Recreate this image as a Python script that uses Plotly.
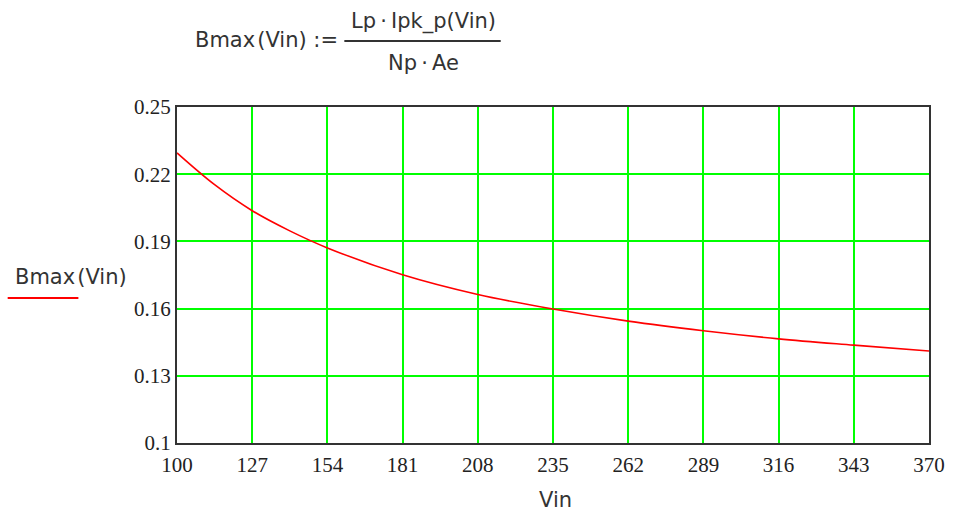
import plotly.graph_objects as go

vin = [100, 113.5, 127, 140.5, 154, 181, 208, 235, 262, 289, 316, 343, 370]
bmax = [0.2295, 0.2153, 0.2037, 0.1947, 0.1871, 0.1751, 0.1663, 0.1598, 0.1544, 0.1501, 0.1465, 0.1437, 0.1411]
x_ticks = [100, 127, 154, 181, 208, 235, 262, 289, 316, 343, 370]
y_ticks = [0.1, 0.13, 0.16, 0.19, 0.22, 0.25]
y_tick_text = ["0.1", "0.13", "0.16", "0.19", "0.22", "0.25"]

W, H = 957, 513
L, R, T, B = 177, 932, 107, 443

def px(x):
    return (x - L) / (R - L)

def py(y):
    return (B - y) / (B - T)

fig = go.Figure()
fig.add_trace(go.Scatter(x=vin, y=bmax, mode="lines",
                         line=dict(color="#ff0000", width=1.6, shape="spline", smoothing=1.0),
                         showlegend=False, hoverinfo="skip"))

tickfont = dict(family="Liberation Serif", size=21, color="#222222")
sansfont = dict(family="DejaVu Sans", size=21, color="#333333")

fig.update_xaxes(range=[100, 370], tickvals=x_ticks, ticktext=[str(v) for v in x_ticks],
                 showgrid=True, gridcolor="#00ff00", gridwidth=2,
                 showline=True, linecolor="#333333", linewidth=2, mirror=True,
                 zeroline=False, ticks="", tickfont=tickfont, ticklabelstandoff=2,
                 fixedrange=True)
fig.update_yaxes(range=[0.1, 0.25], tickvals=y_ticks, ticktext=y_tick_text,
                 showgrid=True, gridcolor="#00ff00", gridwidth=2,
                 showline=True, linecolor="#333333", linewidth=2, mirror=True,
                 zeroline=False, ticks="", tickfont=tickfont, ticklabelstandoff=0,
                 fixedrange=True)

annotations = [
    dict(text="Bmax\u200a(Vin) :=", x=px(193), y=py(40), xanchor="left", yanchor="middle"),
    dict(text="Lp\u2009·\u2009Ipk_p(Vin)", x=px(424), y=py(21), xanchor="center", yanchor="middle"),
    dict(text="Np\u2009·\u2009Ae", x=px(424), y=py(63), xanchor="center", yanchor="middle"),
    dict(text="Bmax\u200a(Vin)", x=px(12), y=py(277), xanchor="left", yanchor="middle"),
    dict(text="Vin", x=px(557), y=py(500), xanchor="center", yanchor="middle"),
]
for a in annotations:
    a.update(xref="paper", yref="paper", showarrow=False, font=sansfont)

shapes = [
    dict(type="line", xref="paper", yref="paper", x0=px(345), x1=px(502), y0=py(41), y1=py(41),
         line=dict(color="#333333", width=2)),
    dict(type="line", xref="paper", yref="paper", x0=px(7), x1=px(78), y0=py(298), y1=py(298),
         line=dict(color="#ff0000", width=2)),
]

fig.update_layout(width=W, height=H, margin=dict(l=L, r=W - R, t=T, b=H - B, pad=0),
                  paper_bgcolor="white", plot_bgcolor="white",
                  annotations=annotations, shapes=shapes)
fig.write_html("out.html", config={"displayModeBar": False},
               post_script="document.body.style.margin='0px';document.body.style.overflow='hidden';")
